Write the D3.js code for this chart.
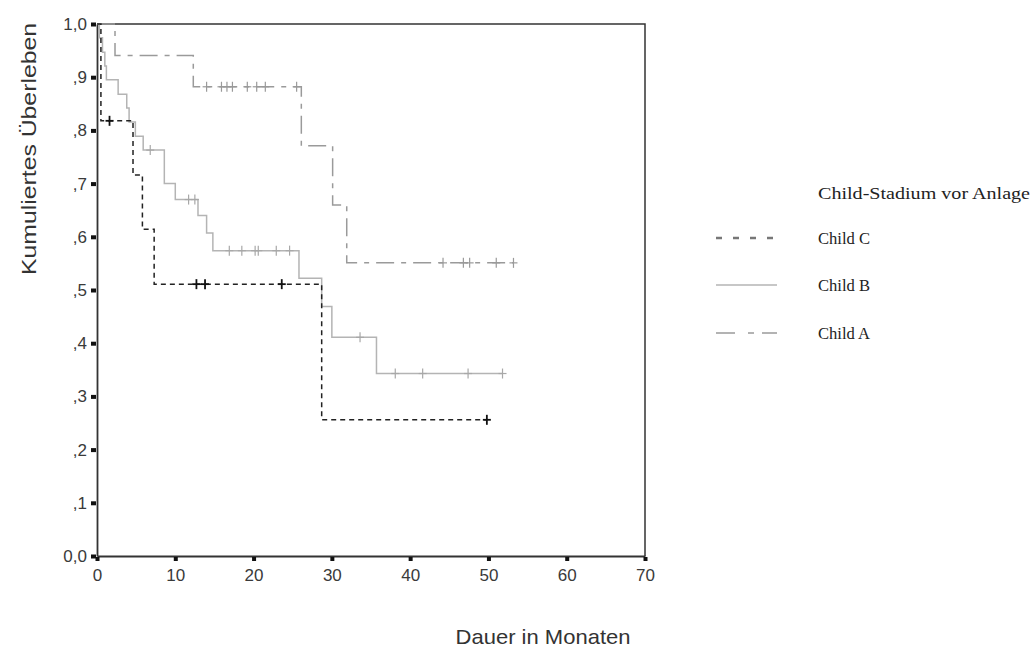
<!DOCTYPE html>
<html>
<head>
<meta charset="utf-8">
<title>Kaplan-Meier Child-Stadium</title>
<script src="https://cdn.jsdelivr.net/npm/d3@7"></script>
<style>
  body { margin: 0; background: #fff; }
  .tick-label { font-family: Arial, "Liberation Sans", sans-serif; font-size: 17px; fill: #3a3a3a; }
  .axis-title { font-family: Arial, "Liberation Sans", sans-serif; font-size: 21px; fill: #333; }
  .legend text { font-family: "Liberation Serif", "DejaVu Serif", serif; font-size: 16px; fill: #222; }
</style>
</head>
<body>
<script>
// Stufen der Überlebenskurven: [Monat, kumuliertes Überleben]
var childC = [[0, 1.0], [0.5, 0.818], [4.6, 0.716], [5.8, 0.614], [7.3, 0.511], [28.7, 0.256], [49.8, 0.256]];
var childB = [[0, 1.0], [0.3, 0.974], [0.7, 0.947], [1.0, 0.921], [1.2, 0.895], [2.7, 0.868], [3.8, 0.842],
              [4.1, 0.816], [4.9, 0.789], [5.9, 0.763], [8.6, 0.70], [10.0, 0.67], [12.9, 0.64], [14.0, 0.607],
              [14.8, 0.574], [25.8, 0.522], [28.7, 0.469], [30.0, 0.411], [35.7, 0.343], [51.8, 0.343]];
var childA = [[0, 1.0], [2.3, 0.941], [12.3, 0.882], [26.1, 0.771], [30.1, 0.660], [31.9, 0.551], [53.2, 0.551]];

// zensierte Fälle (Monat)
var censC = [1.6, 12.7, 13.8, 23.6, 49.8];
var censB = [6.8, 11.7, 12.5, 16.9, 18.5, 20.2, 20.6, 22.9, 24.6, 33.6, 38.1, 41.6, 47.4, 51.8];
var censA = [14.0, 15.9, 16.6, 17.3, 19.2, 20.4, 21.5, 25.5, 44.2, 46.8, 47.6, 51.0, 53.2];

var xTicks = [0, 10, 20, 30, 40, 50, 60, 70];
var yTicks = [0, 0.1, 0.2, 0.3, 0.4, 0.5, 0.6, 0.7, 0.8, 0.9, 1.0];
var yTickLabels = ["0,0", ",1", ",2", ",3", ",4", ",5", ",6", ",7", ",8", ",9", "1,0"];
var legendNames = ["Child C", "Child B", "Child A"];

var w = 1036, h = 649;
var padL = 97, padR = 645, padT = 24, padB = 556;

var svg = d3.select("body").append("svg").attr("width", w).attr("height", h);

var x = d3.scaleLinear().domain([0, 70]).range([padL, padR]);
var y = d3.scaleLinear().domain([0, 1]).range([padB, padT]);

// Rahmen oben und rechts
svg.append("path")
  .attr("d", "M" + padL + "," + padT + "H" + padR + "V" + padB)
  .attr("fill", "none").attr("stroke", "#333").attr("stroke-width", 1.5);

// Achsen
var yAxis = svg.append("g").attr("transform", "translate(" + padL + ",0)")
  .call(d3.axisLeft(y).tickValues(yTicks).tickSize(0).tickPadding(10)
        .tickFormat(function(d, i) { return yTickLabels[i]; }));
var xAxis = svg.append("g").attr("transform", "translate(0," + padB + ")")
  .call(d3.axisBottom(x).tickValues(xTicks).tickSize(0).tickPadding(13).tickFormat(d3.format("d")));

[yAxis, xAxis].forEach(function(g) {
  g.attr("font-size", null).attr("font-family", null);
  g.select(".domain").attr("stroke", "#333").attr("stroke-width", 1.8);
  g.selectAll("text").attr("class", "tick-label").attr("fill", null);
});

// kleine Block-Ticks
yAxis.selectAll(".tick").append("rect")
  .attr("x", -6).attr("y", -2).attr("width", 5).attr("height", 4).attr("fill", "#111");
xAxis.selectAll(".tick").append("rect")
  .attr("x", -2).attr("y", 1).attr("width", 4).attr("height", 4).attr("fill", "#111");

// Achsentitel
svg.append("text").attr("class", "axis-title")
  .attr("transform", "translate(36,149) rotate(-90)")
  .attr("text-anchor", "middle")
  .attr("textLength", 252).attr("lengthAdjust", "spacingAndGlyphs")
  .text("Kumuliertes Überleben");
svg.append("text").attr("class", "axis-title")
  .attr("x", 543).attr("y", 644).attr("text-anchor", "middle")
  .attr("textLength", 175).attr("lengthAdjust", "spacingAndGlyphs")
  .text("Dauer in Monaten");

var line = d3.line()
  .x(function(d) { return x(d[0]); })
  .y(function(d) { return y(d[1]); })
  .curve(d3.curveStepAfter);

// Wert einer Stufenkurve zu Zeit t
function valueAt(steps, t) {
  var v = steps[0][1];
  steps.forEach(function(s) { if (s[0] <= t) v = s[1]; });
  return v;
}

var series = [
  { steps: childA, cens: censA, color: "#9a9a9a", dash: "18,7,5,7", width: 1.5, mark: "#9a9a9a", mw: 1.2 },
  { steps: childB, cens: censB, color: "#b4b4b4", dash: null, width: 1.5, mark: "#a8a8a8", mw: 1.2 },
  { steps: childC, cens: censC, color: "#222", dash: "5,4", width: 1.5, mark: "#111", mw: 1.8 }
];

series.forEach(function(s) {
  svg.append("path").datum(s.steps)
    .attr("d", line)
    .attr("fill", "none")
    .attr("stroke", s.color)
    .attr("stroke-width", s.width)
    .attr("stroke-dasharray", s.dash);

  svg.selectAll(null).data(s.cens).enter().append("line")
    .attr("x1", function(d) { return x(d); })
    .attr("x2", function(d) { return x(d); })
    .attr("y1", function(d) { return y(valueAt(s.steps, d)) - 5; })
    .attr("y2", function(d) { return y(valueAt(s.steps, d)) + 5; })
    .attr("stroke", s.mark)
    .attr("stroke-width", s.mw);

  svg.selectAll(null).data(s.cens).enter().append("line")
    .attr("x1", function(d) { return x(d) - 4; })
    .attr("x2", function(d) { return x(d) + 4; })
    .attr("y1", function(d) { return y(valueAt(s.steps, d)); })
    .attr("y2", function(d) { return y(valueAt(s.steps, d)); })
    .attr("stroke", s.mark)
    .attr("stroke-width", s.mw);
});

// Legende
var legend = svg.append("g").attr("class", "legend");
legend.append("text").attr("x", 818).attr("y", 199)
  .attr("textLength", 212).attr("lengthAdjust", "spacingAndGlyphs")
  .text("Child-Stadium vor Anlage");

var legendStyles = [
  { color: "#777", dash: "6,11", width: 2.5 },
  { color: "#b4b4b4", dash: null, width: 1.5 },
  { color: "#9a9a9a", dash: "19,13,6,8", width: 1.5 }
];
var legendY = [238, 285, 333];

legendNames.forEach(function(name, i) {
  legend.append("line")
    .attr("x1", 716).attr("x2", 777)
    .attr("y1", legendY[i]).attr("y2", legendY[i])
    .attr("stroke", legendStyles[i].color)
    .attr("stroke-width", legendStyles[i].width)
    .attr("stroke-dasharray", legendStyles[i].dash);
  legend.append("text").attr("x", 818).attr("y", legendY[i] + 6)
    .attr("textLength", 52).attr("lengthAdjust", "spacingAndGlyphs")
    .text(name);
});
</script>
</body>
</html>
